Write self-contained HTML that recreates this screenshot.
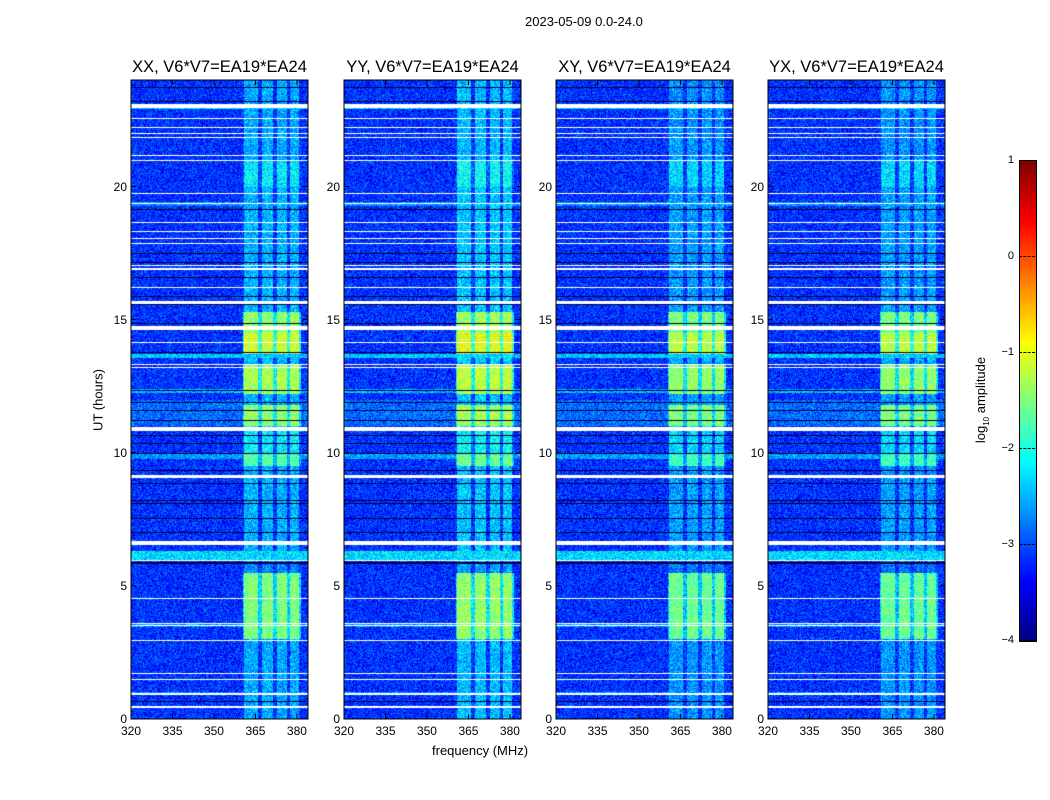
<!DOCTYPE html>
<html><head><meta charset="utf-8">
<style>
body{margin:0;background:#fff;width:1050px;height:800px;overflow:hidden;font-family:"Liberation Sans",sans-serif;}
#root{position:relative;width:1050px;height:800px;}
.t{position:absolute;white-space:nowrap;color:#000;}
canvas{position:absolute;}
</style></head>
<body><div id="root">
<div class="t" style="left:525px;top:14px;font-size:13px;">2023-05-09 0.0-24.0</div>
<div class="t" style="left:98px;top:400px;font-size:13px;transform:translate(-50%,-50%) rotate(-90deg);">UT (hours)</div>
<div class="t" style="left:432px;top:743px;font-size:13px;">frequency (MHz)</div>
<div class="t" style="left:982px;top:400px;font-size:13px;transform:translate(-50%,-50%) rotate(-90deg);">log<sub style="font-size:8px">10</sub> amplitude</div>
<canvas id="cb" width="16" height="480" style="left:1019px;top:160px;border:1px solid #000;box-sizing:content-box;"></canvas>
</div>
<script>
// ---- data ----
const panelTitles = ["XX, V6*V7=EA19*EA24","YY, V6*V7=EA19*EA24","XY, V6*V7=EA19*EA24","YX, V6*V7=EA19*EA24"];
const panelLeft = [131,344,556,768];
const panelGain = [0, 0.1, -0.1, -0.1];
const xTicks = [320,335,350,365,380];
const yTicks = [0,5,10,15,20];
const cbTicks = [1,0,-1,-2,-3,-4];
// band level per hour segment
const bandSegStart = [0,3,5.5,6.3,9.5,10,11,11.8,12.2,13.4,13.7,14.5,15.3,20,21];
const bandSegEnd   = [3,5.5,6.3,9.5,10,11,11.8,12.2,13.3,13.7,14.5,15.3,20,21,24];
const bandSegLevel = [-2.55,-1.5,-2.7,-2.5,-1.7,-2.2,-1.4,-2.5,-1.3,-2.4,-1.1,-1.4,-2.5,-2.2,-2.55];
// brighter baseline rows
const baseStart = [0.9,3.45,5.95,9.75,11.0,12.25,13.55,19.25,22.9];
const baseEnd   = [1.0,3.6,6.3,10.0,12.0,12.4,13.7,19.4,23.0];
const baseLevel = [-2.7,-2.7,-2.3,-2.6,-2.85,-2.5,-2.4,-2.7,-2.3];
// flagged (white) intervals
const flagStart = [0.43,0.92,1.48,1.7,2.94,3.48,3.58,4.52,5.93,6.55,9.05,10.8,13.18,13.3,14.13,14.6,15.6,16.18,16.85,17.03,17.84,18.03,18.28,18.63,19.34,19.72,20.95,21.13,21.83,21.98,22.18,22.53,22.95];
const flagEnd   = [0.47,0.96,1.52,1.74,2.98,3.52,3.62,4.56,5.97,6.7,9.15,10.95,13.22,13.34,14.17,14.75,15.7,16.22,16.95,17.07,17.88,18.07,18.32,18.67,19.38,19.76,20.99,21.17,21.87,22.02,22.22,22.57,23.1];
// dark (black) stripes
const darkHour = [0.64,5.83,5.87,7.0,7.54,8.1,8.22,8.85,9.34,9.98,10.36,10.66,11.2,11.6,11.9,12.35,13.77,14.86,15.55,15.85,16.6,17.15,17.49,19.13,23.2,23.7];

const F0=320,F1=384.0,T0=0,T1=24,PW=177,PH=639,TOP=80;
const fx=f=>(f-F0)/(F1-F0)*PW, ty=t=>PH-(t-T0)/(T1-T0)*PH;
function jet(v){let x=(v+4)/5;x=Math.max(0,Math.min(1,x));
 const c=t=>Math.max(0,Math.min(1,1.5-Math.abs(4*x-t)));
 return [c(3)*255,c(2)*255,c(1)*255];}
function hash(a,b){let h=(a*374761393+b*668265263)|0;h=(h^(h>>>13))*1274126177|0;return ((h^(h>>>16))>>>0)/4294967295;}
function segVal(t,s,e,l,def){for(let i=0;i<s.length;i++)if(t>=s[i]&&t<e[i])return l[i];return def;}
function subBand(f){
 if(f<360.5||f>381.5)return null;
 const on=[[361,365.8],[367.5,371.3],[372.8,376.3],[377.6,380.8]];
 for(const o of on)if(f>=o[0]&&f<=o[1])return 0;return -0.8;}
const root=document.getElementById('root');
panelTitles.forEach((title,p)=>{
 const L=panelLeft[p];
 const cv=document.createElement('canvas');cv.width=PW;cv.height=PH;
 cv.style.left=L+'px';cv.style.top=TOP+'px';
 
 
 root.appendChild(cv);
 const ctx=cv.getContext('2d');const img=ctx.createImageData(PW,PH);
 for(let y=0;y<PH;y++){
  const t=T1-(y+0.5)/PH*(T1-T0);
  const flagged=segVal(t,flagStart,flagEnd,flagStart.map(()=>1),0);
  let dark=false;for(const d of darkHour)if(Math.abs(ty(d)-(y+0.5))<0.5)dark=true;
  const base=segVal(t,baseStart,baseEnd,baseLevel,-3.15);
  const band=segVal(t,bandSegStart,bandSegEnd,bandSegLevel,-2.55)+panelGain[p];
  for(let x=0;x<PW;x++){
   const f=F0+(x+0.5)/PW*(F1-F0);const i=(y*PW+x)*4;
   let r,g,b;
   if(flagged){r=g=b=255;}
   else if(dark){r=0;g=0;b=70;}
   else{let v=base;const sb=subBand(f);if(sb!==null)v=Math.max(base,band+sb);
     v+=(hash(x+p*1000,y)-0.5)*0.9;[r,g,b]=jet(v);}
   img.data[i]=r;img.data[i+1]=g;img.data[i+2]=b;img.data[i+3]=255;}
 }
 ctx.putImageData(img,0,0);
 const ns='http://www.w3.org/2000/svg';
 const svg=document.createElementNS(ns,'svg');
 svg.setAttribute('width',PW+2);svg.setAttribute('height',PH+2);
 svg.style.position='absolute';svg.style.left=(L-1)+'px';svg.style.top=(TOP-1)+'px';svg.style.overflow='visible';
 
 
 let s=`<rect x="1" y="1" width="${PW}" height="${PH}" fill="none" stroke="#000" stroke-width="1"/>`;
 xTicks.forEach(v=>{const X=1+fx(v);s+=`<line x1="${X}" x2="${X}" y1="${PH+1}" y2="${PH-4}" stroke="#000"/><line x1="${X}" x2="${X}" y1="1" y2="6" stroke="#000"/>`;});
 yTicks.forEach(v=>{const Y=1+ty(v);s+=`<line x1="1" x2="6" y1="${Y}" y2="${Y}" stroke="#000"/><line x1="${PW+1}" x2="${PW-4}" y1="${Y}" y2="${Y}" stroke="#000"/>`;});
 svg.innerHTML=s;root.appendChild(svg);
 const tt=document.createElement('div');tt.className='t';tt.textContent=title;
 
 
 tt.style.cssText=`left:${L+PW/2}px;top:58px;font-size:16.5px;transform:translateX(-50%);`;root.appendChild(tt);
 xTicks.forEach(v=>{const d=document.createElement('div');d.className='t';d.textContent=v;
  
  
  d.style.cssText=`left:${L+fx(v)}px;top:724px;font-size:12px;transform:translateX(-50%);`;root.appendChild(d);});
 yTicks.forEach(v=>{const d=document.createElement('div');d.className='t';d.textContent=v;
  
  
  d.style.cssText=`left:${L-4}px;top:${TOP+ty(v)}px;font-size:12px;transform:translate(-100%,-50%);`;root.appendChild(d);});
});
const cb=document.getElementById('cb').getContext('2d');
for(let y=0;y<480;y++){const v=1-y/480*5;const [r,g,b]=jet(v);cb.fillStyle=`rgb(${r|0},${g|0},${b|0})`;cb.fillRect(0,y,16,1);}
cbTicks.forEach(v=>{const Y=160+(1-v)/5*480;
 const d=document.createElement('div');d.className='t';d.textContent=v<0?'\u2212'+(-v):v;
 
 
 d.style.cssText=`left:1014px;top:${Y}px;font-size:11px;transform:translate(-100%,-50%);`;root.appendChild(d);
 const tk=document.createElement('div');tk.style.cssText=`position:absolute;left:1019px;top:${Y}px;width:16px;height:0;border-top:1px dashed #000;`;
 
 
 root.appendChild(tk);});
</script></body></html>
